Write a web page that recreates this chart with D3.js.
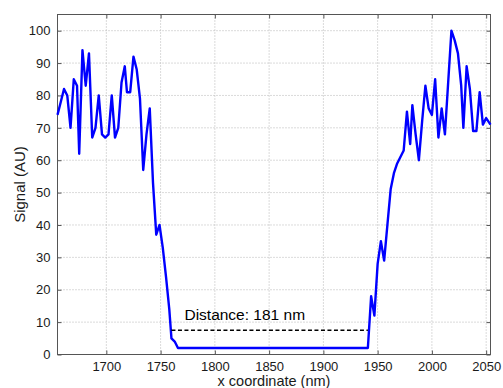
<!DOCTYPE html>
<html>
<head>
<meta charset="utf-8">
<script src="https://cdn.jsdelivr.net/npm/d3@7"></script>
<style>
  html, body { margin: 0; padding: 0; background: #fff; }
  svg { display: block; font-family: Arial, "Liberation Sans", sans-serif; }
</style>
</head>
<body>
<svg id="chart" width="503" height="388"></svg>
<script>
// Line profile across the gap
const xCoord = [1655, 1658, 1661, 1664, 1667, 1670, 1673, 1675, 1678, 1681, 1684, 1687, 1690, 1693, 1696, 1699,
  1702, 1705, 1708, 1711, 1714, 1717, 1719, 1722, 1725, 1728, 1731, 1734, 1737, 1740, 1743, 1746, 1749, 1752,
  1755, 1758, 1760, 1763, 1766, 1770, 1800, 1850, 1900, 1938, 1941, 1944, 1947, 1950, 1953, 1956, 1959, 1962,
  1965, 1968, 1971, 1974, 1977, 1980, 1982, 1985, 1988, 1991, 1994, 1997, 2000, 2003, 2006, 2009, 2012, 2015,
  2018, 2021, 2024, 2027, 2029, 2032, 2035, 2038, 2041, 2044, 2047, 2050, 2054];
const signal = [74, 78, 82, 80, 70, 85, 83, 62, 94, 83, 93, 67, 70, 80, 68, 67,
  68, 80, 67, 70, 84, 89, 81, 81, 92, 88, 79, 57, 68, 76, 53, 37, 40, 33,
  24, 14, 5, 4, 2, 2, 2, 2, 2, 2, 2, 18, 12, 28, 35, 29, 40, 51,
  56, 59, 61, 63, 75, 65, 77, 68, 60, 72, 83, 76, 74, 85, 67, 76, 68, 84,
  100, 97, 93, 83, 70, 89, 82, 69, 69, 81, 71, 73, 71];

// Measured gap between the two edges
const gapStart = 1760;
const gapEnd = 1941;
const gapLevel = 7.5;
const gapLabel = "Distance: 181 nm";

const xTicks = [1700, 1750, 1800, 1850, 1900, 1950, 2000, 2050];
const yTicks = [0, 10, 20, 30, 40, 50, 60, 70, 80, 90, 100];
const xDomain = [1655, 2054];
const yDomain = [0, 105];
const xTitle = "x coordinate (nm)";
const yTitle = "Signal (AU)";

const plotL = 57.5, plotR = 490.5, plotT = 14.5, plotB = 354.5;
const svg = d3.select("#chart");

const x = d3.scaleLinear().domain(xDomain).range([plotL, plotR]);
const y = d3.scaleLinear().domain(yDomain).range([plotB, plotT]);

const axisColor = "#555";
const textColor = "#1a1a1a";

// dotted grid
const grid = svg.append("g");
grid.selectAll("line.gx").data(xTicks).join("line")
  .attr("x1", d => x(d)).attr("x2", d => x(d))
  .attr("y1", plotT).attr("y2", plotB)
  .attr("stroke", "#b5b5b5").attr("stroke-width", 1).attr("stroke-dasharray", "1,2");
grid.selectAll("line.gy").data(yTicks).join("line")
  .attr("x1", plotL).attr("x2", plotR)
  .attr("y1", d => y(d)).attr("y2", d => y(d))
  .attr("stroke", "#b5b5b5").attr("stroke-width", 1).attr("stroke-dasharray", "1,2");

// axes with inward ticks on all four sides
const tickLen = 4;
function styleAxis(g) {
  g.select(".domain").remove();
  g.selectAll(".tick line").attr("stroke", axisColor);
  g.selectAll(".tick text").attr("fill", textColor).attr("font-size", 13)
    .attr("font-family", "Arial, 'Liberation Sans', sans-serif");
}
svg.append("g").attr("transform", `translate(0,${plotB})`)
  .call(d3.axisBottom(x).tickValues(xTicks).tickFormat(d3.format("d")).tickSizeInner(-tickLen).tickSizeOuter(0).tickPadding(7))
  .call(styleAxis);
svg.append("g").attr("transform", `translate(0,${plotT})`)
  .call(d3.axisTop(x).tickValues(xTicks).tickFormat("").tickSizeInner(-tickLen).tickSizeOuter(0))
  .call(styleAxis);
svg.append("g").attr("transform", `translate(${plotL},0)`)
  .call(d3.axisLeft(y).tickValues(yTicks).tickFormat(d3.format("d")).tickSizeInner(-tickLen).tickSizeOuter(0).tickPadding(7))
  .call(styleAxis);
svg.append("g").attr("transform", `translate(${plotR},0)`)
  .call(d3.axisRight(y).tickValues(yTicks).tickFormat("").tickSizeInner(-tickLen).tickSizeOuter(0))
  .call(styleAxis);

// box
svg.append("rect")
  .attr("x", plotL).attr("y", plotT)
  .attr("width", plotR - plotL).attr("height", plotB - plotT)
  .attr("fill", "none").attr("stroke", axisColor).attr("stroke-width", 1);

// signal trace
const pts = xCoord.map((d, i) => [d, signal[i]]);
svg.append("path")
  .datum(pts)
  .attr("d", d3.line().x(d => x(d[0])).y(d => y(d[1])))
  .attr("fill", "none").attr("stroke", "#0000ff").attr("stroke-width", 2.4)
  .attr("stroke-linejoin", "round");

// distance marker
svg.append("line")
  .attr("x1", x(gapStart)).attr("x2", x(gapEnd))
  .attr("y1", y(gapLevel)).attr("y2", y(gapLevel))
  .attr("stroke", "#000").attr("stroke-width", 1.5).attr("stroke-dasharray", "4,2.5");
svg.append("text")
  .attr("x", x(gapStart) + 13).attr("y", 320)
  .attr("font-size", 15.5).attr("fill", "#000")
  .text(gapLabel);

// axis titles
svg.append("text")
  .attr("x", (plotL + plotR) / 2).attr("y", 386)
  .attr("text-anchor", "middle").attr("font-size", 14.5).attr("fill", textColor)
  .text(xTitle);
svg.append("text")
  .attr("transform", `translate(25,${(plotT + plotB) / 2}) rotate(-90)`)
  .attr("text-anchor", "middle").attr("font-size", 15).attr("fill", textColor)
  .text(yTitle);
</script>
</body>
</html>
